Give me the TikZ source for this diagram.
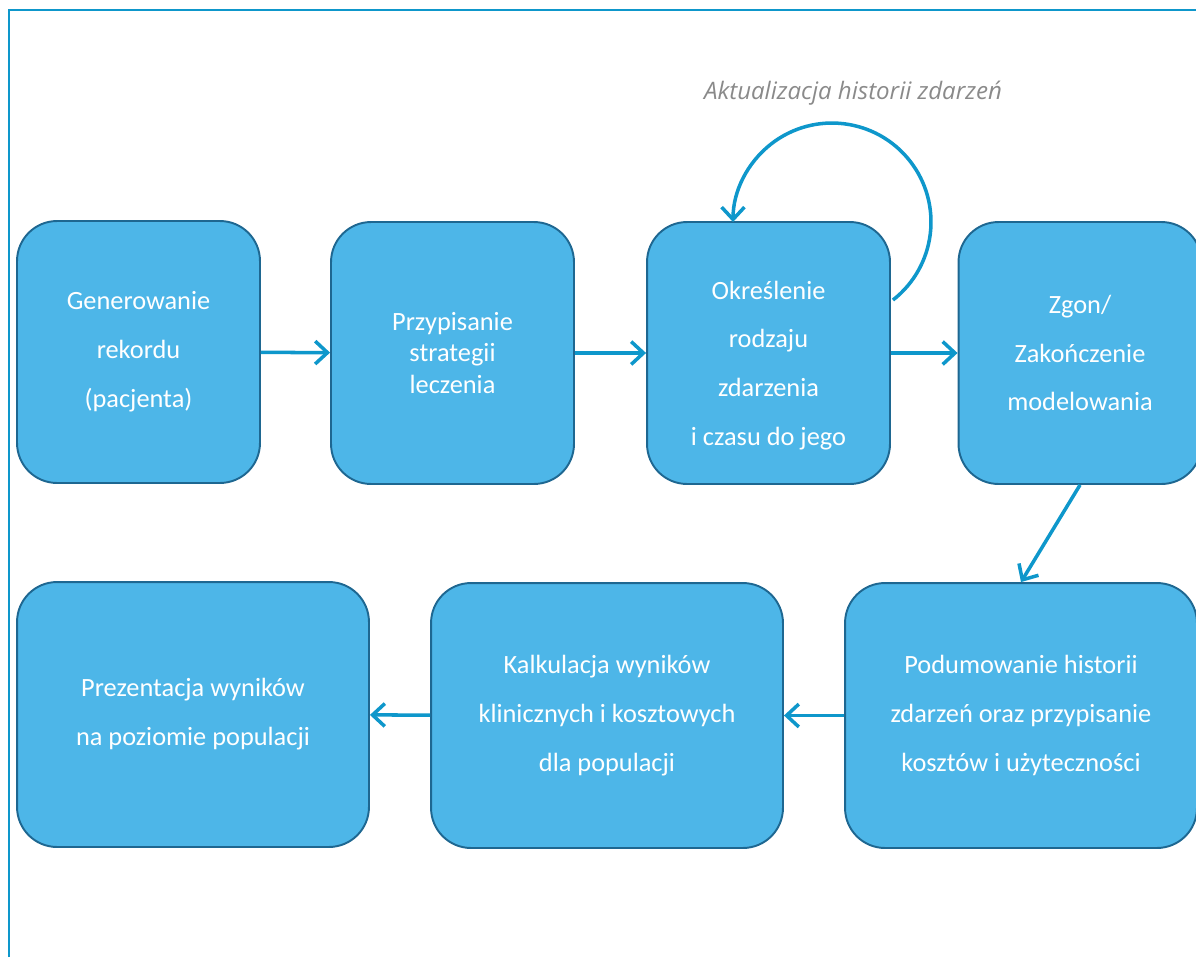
\documentclass[tikz,border=0pt]{standalone}
\usepackage{fontspec}
\setmainfont{Carlito}
\newfontfamily\notefont{Open Sans}
\usetikzlibrary{positioning, arrows.meta}

\definecolor{boxfill}{HTML}{4DB6E8}
\definecolor{boxline}{HTML}{1E6791}
\definecolor{flowblue}{HTML}{0E97CB}
\definecolor{notegray}{HTML}{8A8A8A}

\begin{document}
\begin{tikzpicture}[
    x=0.02cm, y=-0.02cm,
    >={Straight Barb[length=7pt, width=13pt]},
    stepbox/.style={rectangle, rounded corners=0.8cm, draw=boxline, line width=1.1pt,
        fill=boxfill, text=white, align=center, inner sep=0pt,
        font=\fontsize{15}{27.8}\selectfont, minimum width=4.86cm, minimum height=5.24cm},
    widebox/.style={stepbox, minimum width=7.04cm, minimum height=5.3cm},
    flow/.style={->, draw=flowblue, line width=2pt},
    note/.style={font=\notefont\itshape\fontsize{13.7}{16}\selectfont, text=notegray}
]
    \useasboundingbox (0,0) rectangle (1196,957);
    \clip (0,0) rectangle (1196,957);

    % Frame
    \draw[flowblue, line width=1.4pt] (9,957) -- (9,10) -- (1196,10);

    % Top row
    \node[stepbox] (gen) at (138.5,352) {Generowanie\\rekordu\\(pacjenta)};
    \node[stepbox, font=\fontsize{15}{18}\selectfont] (strat) at (452.5,353) {Przypisanie\\strategii\\leczenia};
    \node[stepbox] (event) at (768.5,353) {\rule{0pt}{24.6pt}Określenie\\rodzaju\\zdarzenia\\i czasu do jego};
    \node[stepbox] (end) at (1080,353) {Zgon/\\Zakończenie\\modelowania};

    % Bottom row
    \node[widebox] (sum) at (1021,715.5) {Podumowanie historii\\zdarzeń oraz przypisanie\\kosztów i użyteczności};
    \node[widebox] (calc) at (607,715.5) {Kalkulacja wyników\\klinicznych i kosztowych\\dla populacji};
    \node[widebox] (pres) at (193,714.5) {Prezentacja wyników\\na poziomie populacji};

    % Loop label
    \node[note] (loopnote) at (853,93) {Aktualizacja historii zdarzeń};

    % Flow
    \draw[flow] (gen) -- (strat);
    \draw[flow] (strat) -- (event);
    \draw[flow] (event) -- (end);
    \draw[flow] (end.south) -- (sum.north);
    \draw[flow] (sum) -- (calc);
    \draw[flow] (calc) -- (pres);

    % Loop back to the event box
    \coordinate (loopstart) at ([xshift=0.04cm, yshift=1.06cm]event.east);
    \draw[flow] (loopstart) arc[start angle=-52, end angle=180, radius=1.98cm];

\end{tikzpicture}
\end{document}
